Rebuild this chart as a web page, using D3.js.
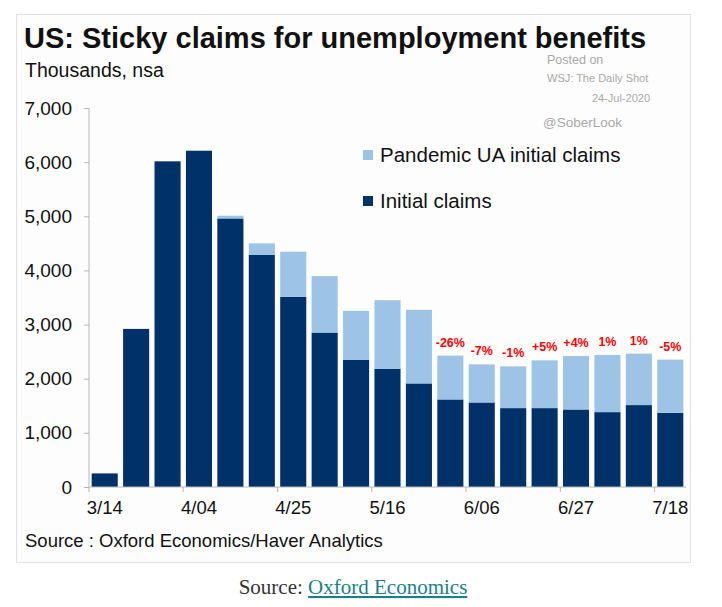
<!DOCTYPE html>
<html>
<head>
<meta charset="utf-8">
<script src="https://cdn.jsdelivr.net/npm/d3@7"></script>
<style>
  html, body { margin: 0; padding: 0; background: #ffffff; }
  svg { display: block; }
  text { font-family: "Liberation Sans", Arial, sans-serif; }
</style>
</head>
<body>
<svg id="chart" width="722" height="607"></svg>
<script>
// ---- data (thousands, not seasonally adjusted) ----
const weeks = ["3/14","3/21","3/28","4/04","4/11","4/18","4/25","5/02","5/09","5/16",
               "5/23","5/30","6/06","6/13","6/20","6/27","7/04","7/11","7/18"];
const initialClaims = [251, 2920, 6015, 6211, 4960, 4290, 3513, 2852, 2346, 2180,
                       1913, 1617, 1561, 1457, 1457, 1432, 1383, 1513, 1370];
const pandemicUAClaims = [0, 0, 0, 0, 50, 210, 833, 1043, 907, 1270,
                          1359, 809, 704, 771, 882, 988, 1056, 950, 982];
const changeLabels = [null, null, null, null, null, null, null, null, null, null,
                      null, "-26%", "-7%", "-1%", "+5%", "+4%", "1%", "1%", "-5%"];
const xTickLabels = ["3/14","4/04","4/25","5/16","6/06","6/27","7/18"];
const yTicks = [0, 1000, 2000, 3000, 4000, 5000, 6000, 7000];
const seriesNames = ["Pandemic UA initial claims", "Initial claims"];
const colors = { initial: "#003168", pua: "#9dc3e6" };

const rows = weeks.map((w, i) => ({ week: w, initial: initialClaims[i], pua: pandemicUAClaims[i], label: changeLabels[i] }));

const svg = d3.select("#chart");

// frame
svg.append("rect").attr("x", 16.5).attr("y", 14.5).attr("width", 674).attr("height", 548)
  .attr("fill", "#fdfdfd").attr("stroke", "#e2e2e2");

// scales
const x = d3.scaleBand().domain(weeks).range([89, 686]).paddingInner(0.17).paddingOuter(0.085);
const y = d3.scaleLinear().domain([0, 7000]).range([487, 108]);

// stacked bars
const stack = d3.stack().keys(["initial", "pua"]);
const series = stack(rows);
svg.append("g").selectAll("g").data(series).join("g")
  .attr("fill", d => colors[d.key])
  .selectAll("rect").data(d => d).join("rect")
  .attr("x", d => x(d.data.week))
  .attr("width", x.bandwidth())
  .attr("y", d => y(d[1]))
  .attr("height", d => Math.max(0, y(d[0]) - y(d[1])));

// y axis
const yAxis = d3.axisLeft(y).tickValues(yTicks).tickFormat(d3.format(",")).tickSize(5).tickPadding(12);
const gy = svg.append("g").attr("transform", "translate(89,0)").call(yAxis);
gy.select(".domain").attr("stroke", "#b8b8b8").attr("d", "M0," + y(7000) + "V" + y(0));
gy.selectAll(".tick line").attr("stroke", "#b8b8b8");
gy.selectAll(".tick text").attr("fill", "#111").style("font-size", "19px");

// x axis
const xAxis = d3.axisBottom(x).tickValues(xTickLabels).tickSize(0).tickPadding(14);
const gx = svg.append("g").attr("transform", "translate(0," + y(0) + ")").call(xAxis);
gx.select(".domain").attr("stroke", "#b8b8b8").attr("d", "M89,0H686");
gx.selectAll(".tick text").attr("fill", "#111").style("font-size", "18.5px");
const halfGap = (x.step() - x.bandwidth()) / 2;
gx.selectAll(".tickmark").data(xTickLabels).join("line").attr("class", "tickmark")
  .attr("x1", d => x(d) - halfGap).attr("x2", d => x(d) - halfGap)
  .attr("y1", 0).attr("y2", 5).attr("stroke", "#b8b8b8");

// change labels
svg.append("g").selectAll("text").data(rows.filter(r => r.label)).join("text")
  .attr("x", d => x(d.week) + x.bandwidth() / 2)
  .attr("y", d => y(d.initial + d.pua) - 9)
  .attr("text-anchor", "middle")
  .attr("fill", "#ff0000").attr("font-weight", "bold").style("font-size", "12.5px")
  .text(d => d.label);

// titles
svg.append("text").attr("x", 24).attr("y", 48).attr("font-weight", "bold")
  .style("font-size", "29px").attr("fill", "#111").text("US: Sticky claims for unemployment benefits");
svg.append("text").attr("x", 25).attr("y", 77).style("font-size", "19.5px").attr("fill", "#111")
  .text("Thousands, nsa");

// watermark
const wm = svg.append("g").attr("fill", "#a8a8a8");
wm.append("text").attr("x", 547).attr("y", 64).style("font-size", "12.5px").text("Posted on");
wm.append("text").attr("x", 547).attr("y", 82).style("font-size", "11px").text("WSJ: The Daily Shot");
wm.append("text").attr("x", 650).attr("y", 102).attr("text-anchor", "end").style("font-size", "11px").text("24-Jul-2020");
wm.append("text").attr("x", 543).attr("y", 127).style("font-size", "13.5px").text("@SoberLook");

// legend
const legend = svg.append("g");
const legendItems = [{ name: seriesNames[0], color: colors.pua, y: 155 }, { name: seriesNames[1], color: colors.initial, y: 201 }];
legend.selectAll("rect").data(legendItems).join("rect")
  .attr("x", 363).attr("y", d => d.y - 5).attr("width", 10).attr("height", 10).attr("fill", d => d.color);
legend.selectAll("text").data(legendItems).join("text")
  .attr("x", 380).attr("y", d => d.y).attr("dy", "0.35em")
  .style("font-size", "20.5px").attr("fill", "#111").text(d => d.name);

// source inside chart
svg.append("text").attr("x", 25).attr("y", 547).style("font-size", "18.5px").attr("fill", "#111")
  .text("Source : Oxford Economics/Haver Analytics");

// page caption below chart
const cap = svg.append("text").attr("x", 353).attr("y", 594).attr("text-anchor", "middle")
  .style("font-family", "'Liberation Serif', 'Times New Roman', serif").style("font-size", "21px");
cap.append("tspan").attr("fill", "#333").text("Source: ");
cap.append("tspan").attr("fill", "#1b7f88").attr("text-decoration", "underline").text("Oxford Economics");
</script>
</body>
</html>
